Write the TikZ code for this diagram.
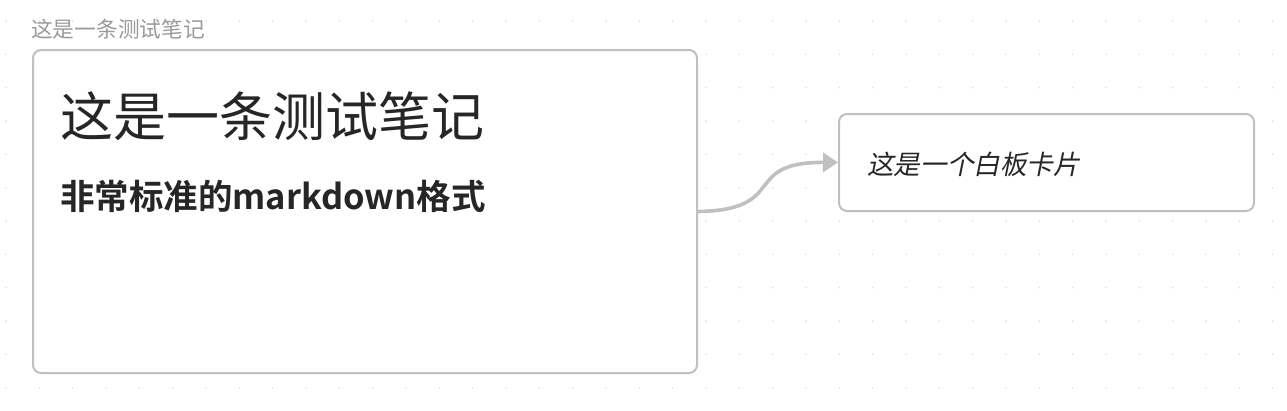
\documentclass[tikz,border=0pt]{standalone}
\usepackage{fontspec}
\setmainfont{Noto Sans CJK SC}
\newfontfamily\cjkit{Noto Sans CJK SC}[FakeSlant=0.2]
\newfontfamily\cjkbold{Noto Sans CJK SC Bold}
\usetikzlibrary{arrows.meta}
\definecolor{cardline}{HTML}{C0C0C0}
\definecolor{dotc}{HTML}{D6D6D6}
\definecolor{labelc}{HTML}{9A9A9A}
\definecolor{textc}{HTML}{262626}
\tikzset{
  card/.style={draw=cardline, line width=2pt, fill=white, rounded corners=8pt, inner sep=0pt},
  link/.style={draw=cardline, line width=3.6pt, -{Triangle[length=15pt,width=19pt]}},
}
\begin{document}
\begin{tikzpicture}[x=1pt,y=-1pt]
\useasboundingbox (0,0) rectangle (1287,410);
\fill[white] (0,0) rectangle (1287,410);
\foreach \i in {0,...,38}{
  \foreach \j in {0,...,11}{
    \fill[dotc] ({6+33.333*\i},{21+33.333*\j}) circle (0.8pt);
  }
}
\node[anchor=west, text=labelc, font=\fontsize{21.7}{24}\selectfont, inner sep=0pt] (lbl) at (31,29) {这是一条测试笔记};
\node[card, minimum width=664pt, minimum height=323pt, anchor=north west] (main) at (32,49) {};
\node[card, minimum width=415pt, minimum height=97pt, anchor=north west] (white) at (838,113) {};
\node[anchor=west, text=textc, font=\fontsize{53}{60}\selectfont, inner sep=0pt] (title) at (60,116) {这是一条测试笔记};
\node[anchor=west, text=textc, font=\cjkbold\fontsize{34.5}{40}\selectfont, inner sep=0pt] (sub) at (60,196) {非常标准的markdown格式};
\node[anchor=west, text=textc, font=\cjkit\fontsize{26.6}{30}\selectfont, inner sep=0pt] (wtext) at (867,164) {这是一个白板卡片};
\draw[link] (main.east) .. controls (790,210) and (740,162) .. (white.west);
\end{tikzpicture}
\end{document}
